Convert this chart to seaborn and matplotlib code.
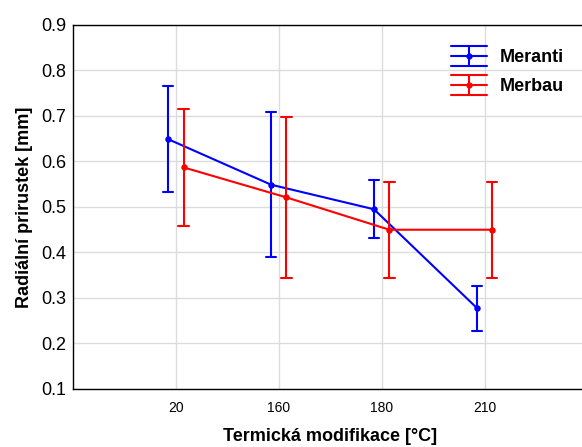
import numpy as np
import pandas as pd
import matplotlib
matplotlib.use("Agg")
import matplotlib.pyplot as plt
import seaborn as sns
from matplotlib.lines import Line2D
from matplotlib.legend_handler import HandlerBase

# hodnoty
teploty = ["20", "160", "180", "210"]
druhy = ["Meranti", "Merbau"]

meranti_prumer = [0.649, 0.549, 0.495, 0.278]
meranti_dolni = [0.532, 0.391, 0.432, 0.227]
meranti_horni = [0.767, 0.709, 0.559, 0.327]

merbau_prumer = [0.587, 0.521, 0.450, 0.450]
merbau_dolni = [0.459, 0.343, 0.345, 0.345]
merbau_horni = [0.716, 0.698, 0.556, 0.556]

barvy = {"Meranti": "#0000ff", "Merbau": "#ff0000"}

# dlouhy format: median = prumer, rozsah (pi 100) = interval
radky = []
for druh, prumer, dolni, horni in [
    ("Meranti", meranti_prumer, meranti_dolni, meranti_horni),
    ("Merbau", merbau_prumer, merbau_dolni, merbau_horni),
]:
    for t, m, lo, hi in zip(teploty, prumer, dolni, horni):
        for v in (lo, m, hi):
            radky.append({"teplota": t, "druh": druh, "hodnota": v})
df = pd.DataFrame(radky)


# znacka legendy ve tvaru chybove usecky (tri vodorovne cary + svisla)
class ChybaHandler(HandlerBase):
    def create_artists(self, legend, orig_handle, xdescent, ydescent,
                       width, height, fontsize, trans):
        c = orig_handle.get_color()
        x0, x1 = -xdescent, -xdescent + width
        xm = (x0 + x1) / 2
        ym = height / 2 - ydescent
        d = 0.55 * fontsize
        art = []
        for y in (ym - d, ym, ym + d):
            art.append(Line2D([x0, x1], [y, y], color=c, lw=1.5, transform=trans))
        art.append(Line2D([xm, xm], [ym - d, ym + d], color=c, lw=1.5, transform=trans))
        art.append(Line2D([xm], [ym], color=c, marker="o", markersize=3.5, transform=trans))
        return art


sns.set_style("white")
plt.rcParams["font.family"] = ["Liberation Sans", "DejaVu Sans"]
plt.rcParams["text.color"] = "black"
plt.rcParams["xtick.color"] = "black"
plt.rcParams["ytick.color"] = "black"
plt.rcParams["axes.labelcolor"] = "black"

fig = plt.figure(figsize=(5.82, 4.47), dpi=100)
ax = fig.add_axes([0.1254, 0.1298, 0.884, 0.8143])

sns.pointplot(
    data=df, x="teplota", y="hodnota", hue="druh",
    order=teploty, hue_order=druhy, palette=barvy,
    estimator="median", errorbar=("pi", 100),
    dodge=0.15, capsize=0.1, markers="o", markersize=3.5,
    linewidth=1.5, err_kws={"linewidth": 1.5}, ax=ax,
)

ax.set_xlim(-1, 4)
ax.set_ylim(0.1, 0.9)
ax.set_yticks(np.arange(0.1, 0.91, 0.1))
ax.set_yticklabels([f"{v:.1f}" for v in np.arange(0.1, 0.91, 0.1)], fontsize=13)
ax.tick_params(axis="x", labelsize=10, length=0, pad=9)
ax.tick_params(axis="y", length=0, pad=5)
ax.grid(True, color="#dcdcdc", linewidth=1)
ax.set_axisbelow(True)
for s in ["left", "bottom", "top"]:
    ax.spines[s].set_color("black")
    ax.spines[s].set_linewidth(1)
ax.spines["right"].set_visible(False)

ax.set_xlabel("Termická modifikace [°C]", fontsize=13, fontweight="bold", labelpad=9)
ax.set_ylabel("Radiální prirustek [mm]", fontsize=13, fontweight="bold", labelpad=6)

# legenda
ax.get_legend().remove()
handles = [Line2D([], [], color=barvy[d]) for d in druhy]
ax.legend(handles=handles, labels=druhy, loc="upper right", frameon=False,
          prop={"weight": "bold", "size": 13}, handlelength=2.0,
          handler_map={Line2D: ChybaHandler()},
          bbox_to_anchor=(0.985, 0.978), labelspacing=0.65, handletextpad=0.7)

fig.savefig("out.png", dpi=100)
